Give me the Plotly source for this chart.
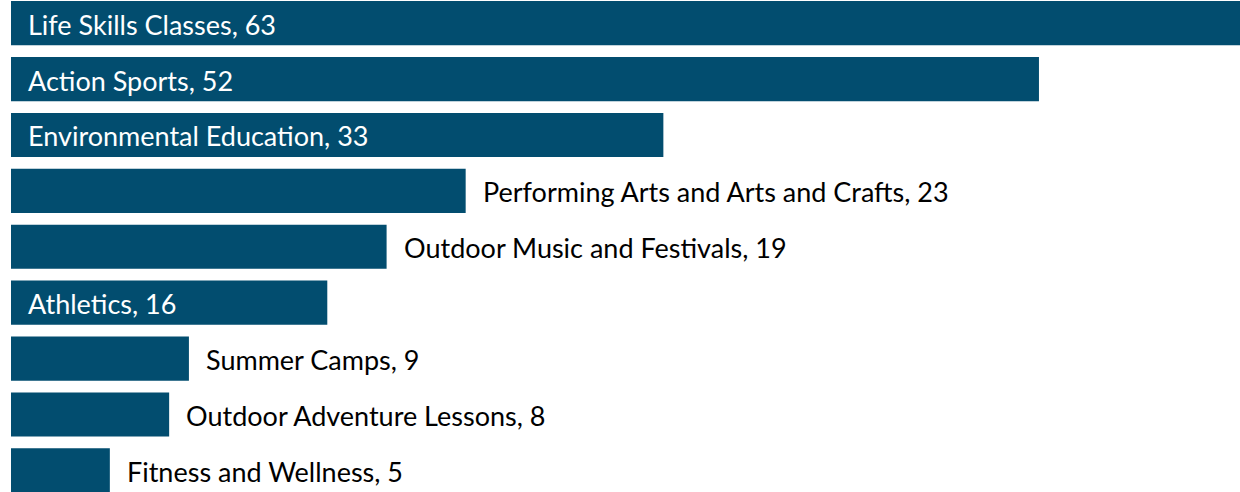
import plotly.graph_objects as go

categories = [
    "Life Skills Classes",
    "Action Sports",
    "Environmental Education",
    "Performing Arts and Arts and Crafts",
    "Outdoor Music and Festivals",
    "Athletics",
    "Summer Camps",
    "Outdoor Adventure Lessons",
    "Fitness and Wellness",
]
values = [63, 52, 33, 23, 19, 16, 9, 8, 5]
label_inside = [True, True, True, False, False, True, False, False, False]

BAR_COLOR = "#024d6f"
FONT = "Lato"

fig = go.Figure(
    go.Bar(
        x=values,
        y=categories,
        orientation="h",
        marker=dict(color=BAR_COLOR, line=dict(width=0)),
        width=0.79,
        hoverinfo="skip",
    )
)

annotations = []
for cat, val, inside in zip(categories, values, label_inside):
    annotations.append(
        dict(
            x=0 if inside else val,
            y=cat,
            xref="x",
            yref="y",
            text=f"{cat}, {val}",
            showarrow=False,
            xanchor="left",
            yanchor="middle",
            xshift=15,
            yshift=-1,
            font=dict(family=FONT, size=27, color="white" if inside else "black"),
        )
    )

fig.update_layout(
    width=1240,
    height=492,
    margin=dict(l=11, r=0, t=0, b=0),
    paper_bgcolor="white",
    plot_bgcolor="white",
    showlegend=False,
    annotations=annotations,
    xaxis=dict(range=[0, 62.17], visible=False, fixedrange=True),
    yaxis=dict(
        range=[8.386, -0.414],
        visible=False,
        fixedrange=True,
        categoryorder="array",
        categoryarray=categories,
    ),
)

fig.write_html(
    "out.html",
    config={"displayModeBar": False},
    post_script="document.body.style.margin='0';document.body.style.overflow='hidden';",
)
